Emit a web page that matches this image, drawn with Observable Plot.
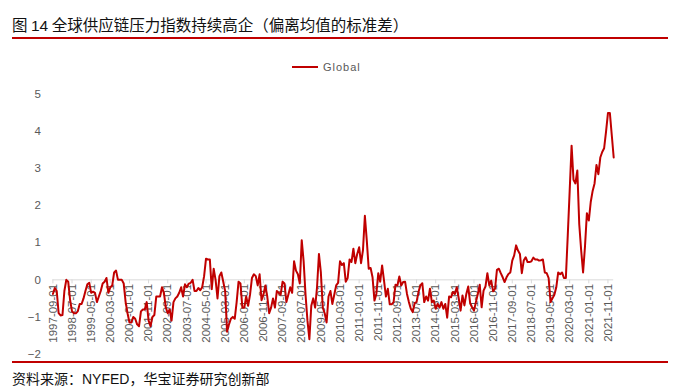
<!DOCTYPE html>
<html>
<head>
<meta charset="utf-8">
<script src="https://cdn.jsdelivr.net/npm/d3@7"></script>
<script src="https://cdn.jsdelivr.net/npm/@observablehq/plot@0.6"></script>
<style>
  html, body { margin: 0; padding: 0; background: #fff; }
  body { width: 700px; height: 392px; position: relative; overflow: hidden; font-family: "Liberation Sans", Arial, sans-serif; }
  .title { position: absolute; left: 12px; top: 15px; font-family: "Noto Sans CJK SC", sans-serif; font-size: 15.5px; color: #111; white-space: nowrap; line-height: 18px; }
  .title .num { font-family: "Liberation Sans", Arial, sans-serif; }
  .rule { position: absolute; left: 12px; width: 656px; height: 2px; background: #c00000; }
  .legend { position: absolute; left: 292px; top: 60px; height: 14px; display: flex; align-items: center; }
  .legend .sw { width: 26px; height: 2px; background: #c00000; margin-right: 5px; }
  .legend .lb { font-size: 11px; color: #595959; letter-spacing: 1px; }
  #chart { position: absolute; left: 0; top: 48px; }
  .source { position: absolute; left: 12px; top: 369px; font-family: "Noto Sans CJK SC", sans-serif; font-size: 14px; color: #111; white-space: nowrap; line-height: 18px; }
  .source .lat { font-family: "Liberation Sans", Arial, sans-serif; }
</style>
</head>
<body>
<div class="title">图 <span class="num">14</span> 全球供应链压力指数持续高企（偏离均值的标准差）</div>
<div class="rule" style="top:37px"></div>
<div class="legend"><div class="sw"></div><div class="lb">Global</div></div>
<div id="chart"></div>
<div class="rule" style="top:361px"></div>
<div class="source">资料来源：<span class="lat">NYFED</span>，华宝证券研究创新部</div>
<script>
// Monthly categories 1997-09 .. 2022-02
const startMonth = new Date(Date.UTC(1997, 8, 1));
const endMonthExclusive = new Date(Date.UTC(2022, 2, 1));
const months = d3.utcMonth.range(startMonth, endMonthExclusive).map(d3.utcFormat("%Y-%m-%d"));

// Global Supply Chain Pressure Index (std. deviations from mean)
const globalValues = [
  -0.38,-0.22,-0.3,-0.9,-0.96,-0.95,-0.3,0.0,-0.05,-0.55,
  -0.85,-0.9,-0.9,-0.85,-0.65,-0.65,-0.5,-0.3,-0.12,-0.08,
  -0.35,-0.32,-0.35,-0.6,-0.45,-0.3,-0.1,-0.05,0.05,-0.35,
  -0.2,-0.15,0.2,0.25,0.0,0.0,0.0,-0.1,-0.6,-0.9,
  -1.15,-1.15,-1.0,-1.05,-1.2,-1.25,-0.85,-0.8,-0.8,-0.6,
  -1.1,-1.25,-1.0,-0.95,-0.45,-0.45,-0.45,-0.2,-0.35,-0.75,
  -0.9,-0.8,-1.1,-0.6,-0.5,-0.45,-0.35,-0.2,-0.45,-0.12,
  -0.2,-0.1,-0.08,0.0,-0.3,-0.3,-0.22,-0.28,-0.2,0.1,
  0.57,0.55,0.55,-0.25,0.3,0.0,-0.5,0.1,0.2,-0.05,
  -0.3,-1.4,-1.2,-1.05,-1.0,-1.05,-0.6,-0.05,-0.1,-0.75,
  -0.75,-0.45,-0.7,-0.4,0.05,0.15,0.1,-0.15,0.15,-0.55,
  -0.4,-0.15,-0.45,-0.9,-0.75,-0.5,-0.75,-0.3,-0.35,-0.4,
  -0.05,-0.1,-0.6,-0.4,-0.2,-0.35,0.5,0.25,0.15,-0.1,
  1.07,0.5,-0.4,-1.1,-1.6,-0.7,-0.5,-0.75,-0.2,0.7,
  0.2,-0.75,-0.9,-1.15,-0.45,-0.3,-0.65,-0.4,-0.15,-0.08,
  0.5,0.4,0.45,-0.05,0.05,0.55,0.48,0.84,0.45,0.7,
  0.88,0.45,0.8,1.73,1.06,0.3,0.32,0.07,-0.56,-0.38,
  0.18,-0.05,0.39,-0.02,-0.45,-0.24,-0.66,-0.66,-0.6,-0.13,
  -0.15,0.09,-0.15,-0.06,-0.05,-0.38,-0.6,-0.78,-0.87,-0.63,
  -0.6,-0.33,-0.15,-0.09,-0.6,-0.45,-0.56,-0.24,-0.6,-0.56,
  -0.78,-0.65,-0.75,-0.6,-0.78,-0.65,-1.02,-0.45,-0.47,-0.33,
  -0.38,-0.2,-0.49,-0.83,-0.42,-0.69,-0.38,-0.18,-0.63,-0.74,
  -0.83,-0.6,-0.38,-0.13,-0.74,-0.29,-0.18,0.18,-0.15,-0.02,
  -0.31,-0.24,0.27,0.3,0.18,0.07,-0.06,0.07,0.16,0.2,
  0.52,0.66,0.93,0.79,0.7,0.18,0.52,0.61,0.48,0.48,
  0.5,0.6,0.55,0.55,0.52,0.53,0.55,0.2,0.18,0.05,
  -0.6,-0.5,-0.4,-0.2,0.2,0.15,0.2,0.05,0.05,1.2,
  2.4,3.62,2.7,2.6,2.95,1.5,0.8,0.2,0.9,1.8,
  1.6,2.1,2.4,2.6,3.1,2.85,3.3,3.45,3.55,4.0,
  4.5,4.5,3.9,3.3
];

const tickLabels = [
  "1997-09-01","1998-07-01","1999-05-01","2000-03-01","2001-01-01","2001-11-01",
  "2002-09-01","2003-07-01","2004-05-01","2005-03-01","2006-01-01","2006-11-01",
  "2007-09-01","2008-07-01","2009-05-01","2010-03-01","2011-01-01","2011-11-01",
  "2012-09-01","2013-07-01","2014-05-01","2015-03-01","2016-01-01","2016-11-01",
  "2017-09-01","2018-07-01","2019-05-01","2020-03-01","2021-01-01","2021-11-01"
];
const yTicks = [-2, -1, 0, 1, 2, 3, 4, 5];

const data = months.map((m, i) => ({month: m, value: globalValues[i]}));

const chart = Plot.plot({
  width: 700,
  height: 320,
  marginLeft: 52.4,
  marginRight: 86.8,
  marginTop: 46,
  marginBottom: 14.5,
  style: {fontFamily: "'Liberation Sans', Arial, sans-serif", fontSize: "11.5px", color: "#595959", background: "transparent"},
  x: {type: "point", domain: months, padding: 0, axis: null},
  y: {domain: [-2, 5], ticks: yTicks, tickFormat: d3.format("d"), tickSize: 0, tickPadding: 12, label: null},
  marks: [
    Plot.ruleY([0], {stroke: "#d9d9d9", strokeWidth: 1}),
    Plot.ruleX(tickLabels, {x: d => d, y1: () => 0, y2: () => 0, insetBottom: -4, stroke: "#d9d9d9"}),
    Plot.text(tickLabels, {x: d => d, y: () => 0, text: d => d, rotate: -90, textAnchor: "end", lineAnchor: "middle", dy: 4, fill: "#595959", fontSize: 11.5}),
    Plot.line(data, {x: "month", y: "value", stroke: "#c00000", strokeWidth: 2})
  ]
});
document.getElementById("chart").appendChild(chart);
</script>
</body>
</html>
